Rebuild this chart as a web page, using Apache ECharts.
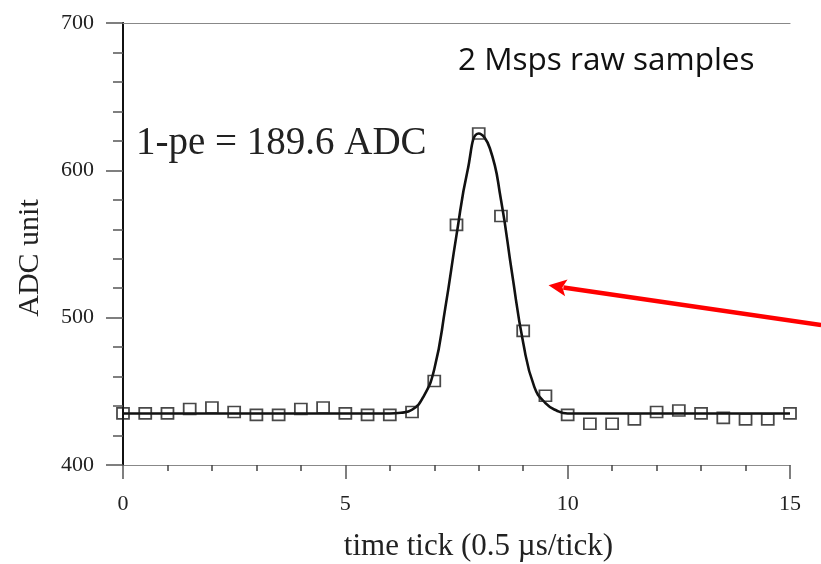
<!DOCTYPE html>
<html><head><meta charset="utf-8">
<script src="https://cdn.jsdelivr.net/npm/echarts@6/dist/echarts.min.js"></script>
<style>html,body{margin:0;padding:0;background:#fff}#c{width:821px;height:564px}</style>
</head><body><div id="c"></div>
<script>
// Raw samples (time tick, ADC)
const sampleTicks = [0,0.5,1,1.5,2,2.5,3,3.5,4,4.5,5,5.5,6,6.5,7,7.5,8,8.5,9,9.5,10,10.5,11,11.5,12,12.5,13,13.5,14,14.5,15];
const sampleADC   = [435,435,435,438,439,436,434,434,438,439,435,434,434,436,457,563,625,569,491,447,434,428,428,431,436,437,435,432,431,431,435];
// Fitted pulse curve
const fitTicks = [0,2,4,5,5.5,6,6.25,6.5,6.75,7,7.25,7.5,7.75,8,8.25,8.5,8.75,9,9.25,9.5,9.75,10,10.5,11,12,14,15];
const fitADC   = [435,435,435,435,435,435,435.5,437.5,446,465,507,556,600,625,615,580,530,483,453,442,437,435,435,435,435,435,435];
// Arrow annotation (data units)
const arrowFrom = [15.7, 495];
const arrowTo = [9.57, 522];
const xTicks = {min:0, max:15, interval:5};
const yTicks = {min:400, max:700, interval:100};

const serif = '"Liberation Serif","DejaVu Serif",serif';
const chart = echarts.init(document.getElementById('c'), null, {renderer:'canvas'});
chart.setOption({
  animation:false,
  backgroundColor:'#fff',
  grid:{left:123, top:23, right:31, bottom:99, outerBoundsMode:'none', containLabel:false},
  title:[
    {text:'1-pe = 189.6 ADC', left:131, top:119, textStyle:{fontFamily:serif, fontSize:39, fontWeight:'normal', color:'#222'}},
    {text:'2 Msps raw samples', left:453, top:40, textStyle:{fontFamily:'"Open Sans","Noto Sans",sans-serif', fontSize:31.5, fontWeight:'normal', color:'#111'}}
  ],
  xAxis:[{
    type:'value', min:xTicks.min, max:xTicks.max, interval:xTicks.interval,
    position:'bottom',
    name:'time tick (0.5 µs/tick)', nameLocation:'middle', nameGap:66,
    nameTextStyle:{fontFamily:serif, fontSize:31, color:'#222', padding:[0,0,0,44]},
    axisLine:{lineStyle:{color:'#888', width:1.2}},
    axisTick:{show:true, length:14, lineStyle:{color:'#555', width:1.5}},
    minorTick:{show:true, splitNumber:5, length:6, lineStyle:{color:'#444', width:1.5}},
    axisLabel:{margin:28, fontFamily:serif, fontSize:22, color:'#222'},
    splitLine:{show:false}
  },{
    type:'value', min:xTicks.min, max:xTicks.max, position:'top',
    axisLine:{lineStyle:{color:'#888', width:1.2}},
    axisTick:{show:false}, axisLabel:{show:false}, splitLine:{show:false}
  }],
  yAxis:[{
    type:'value', min:yTicks.min, max:yTicks.max, interval:yTicks.interval,
    position:'left',
    name:'ADC unit', nameLocation:'middle', nameGap:78,
    nameTextStyle:{fontFamily:serif, fontSize:30, color:'#222', padding:[0,28,0,0]},
    axisLine:{lineStyle:{color:'#555', width:2}},
    axisTick:{show:true, length:17, lineStyle:{color:'#555', width:1.5}},
    minorTick:{show:true, splitNumber:5, length:10, lineStyle:{color:'#555', width:1.5}},
    axisLabel:{margin:29, fontFamily:serif, fontSize:22, color:'#222'},
    splitLine:{show:false}
  },{
    type:'value', min:yTicks.min, max:yTicks.max, position:'right',
    axisLine:{show:true, lineStyle:{color:'#111', width:2}},
    axisTick:{show:false}, axisLabel:{show:false}, splitLine:{show:false}
  }],
  series:[{
    type:'line', name:'fit',
    data: fitTicks.map((t,i)=>[t, fitADC[i]]),
    showSymbol:false, smooth:0.5,
    lineStyle:{color:'#111', width:2.6},
    z:3
  },{
    type:'scatter', name:'samples',
    data: sampleTicks.map((t,i)=>[t, sampleADC[i]]),
    symbol:'rect', symbolSize:[12,11],
    itemStyle:{color:'rgba(0,0,0,0)', borderColor:'#1a1a1a', borderWidth:1.7},
    clip:true, z:4
  }]
});
// Arrow: endpoints converted through the chart's own scales
const pFrom = chart.convertToPixel({gridIndex:0}, arrowFrom);
const pTo = chart.convertToPixel({gridIndex:0}, arrowTo);
const ang = Math.atan2(pFrom[1]-pTo[1], pFrom[0]-pTo[0]);
const ux = Math.cos(ang), uy = Math.sin(ang);
const nx = -uy, ny = ux;
const headLen = 18, headHalf = 8.5;
const bx = pTo[0] + ux*headLen, by = pTo[1] + uy*headLen;
chart.setOption({graphic:[
  {type:'line', z:10, shape:{x1:pFrom[0], y1:pFrom[1], x2:bx - ux*3, y2:by - uy*3}, style:{stroke:'#ff0000', lineWidth:4.5}},
  {type:'polygon', z:10, shape:{points:[[pTo[0],pTo[1]],[bx+nx*headHalf, by+ny*headHalf],[bx - ux*4, by - uy*4],[bx-nx*headHalf, by-ny*headHalf]]}, style:{fill:'#ff0000'}}
]});
</script></body></html>
